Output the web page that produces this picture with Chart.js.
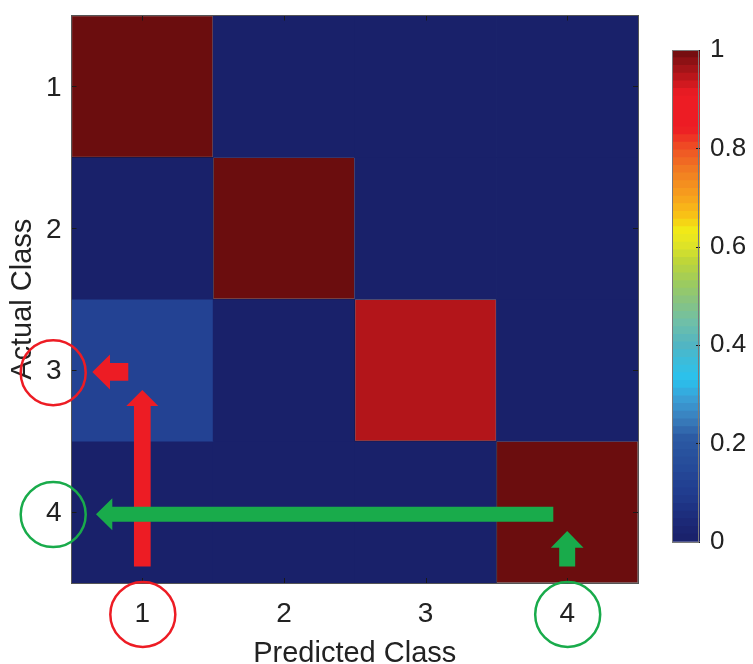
<!DOCTYPE html>
<html>
<head>
<meta charset="utf-8">
<script src="https://cdn.jsdelivr.net/npm/chart.js@4.4.1/dist/chart.umd.min.js"></script>
<style>
  html, body { margin: 0; padding: 0; background: #ffffff; }
  #wrap { position: relative; width: 753px; height: 664px; }
  #wrap canvas { position: absolute; left: 0; top: 0; }
</style>
</head>
<body>
<div id="wrap">
  <canvas id="matrix" width="753" height="664"></canvas>
  <canvas id="colorbar" width="753" height="664"></canvas>
</div>
<script>
// Confusion matrix: rows are the actual class, columns the predicted class.
const predictedClasses = ['1', '2', '3', '4'];
const actualClasses = [1, 2, 3, 4];
const actualClass1 = [1.00, 0.00, 0.00, 0.00];
const actualClass2 = [0.00, 1.00, 0.00, 0.00];
const actualClass3 = [0.12, 0.00, 0.95, 0.00];
const actualClass4 = [0.00, 0.00, 0.00, 1.00];
const matrixRows = [actualClass1, actualClass2, actualClass3, actualClass4];

// Colour bar
const colorbarTicks = [0, 0.2, 0.4, 0.6, 0.8, 1];
const colorSteps = 64;

const FONT = "'Liberation Sans', Arial, Helvetica, sans-serif";
const TEXT = '#222222';
const RED = '#ed1c24';
const GREEN = '#19ab4b';

// Jet-like colour map (value in [0,1] -> colour)
const jetStops = [
  [0.000, '#19216a'], [0.030, '#1b2673'], [0.090, '#203a8c'], [0.150, '#254a99'],
  [0.210, '#2c5aa3'], [0.250, '#3a7fbd'], [0.290, '#3a9fd6'], [0.330, '#29c2ee'],
  [0.370, '#3dbcd9'], [0.400, '#52b5c2'], [0.445, '#6fbfa8'], [0.485, '#86c383'],
  [0.525, '#9ccb5f'], [0.567, '#bcd53a'], [0.607, '#e3e524'], [0.634, '#f2e916'],
  [0.660, '#f8c515'], [0.700, '#f7a21d'], [0.756, '#f17a22'], [0.796, '#ef5424'],
  [0.840, '#ed1c24'], [0.910, '#ed1c24'], [1.000, '#6b0d0e']
];
function hexToRgb(h) {
  const n = parseInt(h.slice(1), 16);
  return [(n >> 16) & 255, (n >> 8) & 255, n & 255];
}
function colormap(v) {
  v = Math.max(0, Math.min(1, v));
  for (let i = 1; i < jetStops.length; i++) {
    const [v1, c1] = jetStops[i];
    if (v <= v1) {
      const [v0, c0] = jetStops[i - 1];
      const t = v1 === v0 ? 0 : (v - v0) / (v1 - v0);
      const a = hexToRgb(c0), b = hexToRgb(c1);
      const m = a.map((x, k) => Math.round(x + (b[k] - x) * t));
      return `rgb(${m[0]},${m[1]},${m[2]})`;
    }
  }
  return jetStops[jetStops.length - 1][1];
}

// Annotation arrows, endpoints in data units (x: predicted class index, y: actual class)
const annotationArrows = [
  { from: [0, 4.384], to: [0, 3.139], shaft: 16.7, head: 32, headLen: 16, color: RED },
  { from: [-0.099, 3.012], to: [-0.353, 3.012], shaft: 17.7, head: 35, headLen: 17.7, color: RED },
  { from: [2.902, 4.015], to: [-0.327, 4.015], shaft: 15, head: 32, headLen: 16.3, color: GREEN },
  { from: [3.0, 4.384], to: [3.0, 4.133], shaft: 16, head: 32.7, headLen: 16.7, color: GREEN }
];
// Rings drawn around selected tick labels
const annotationRings = [
  { axis: 'y', value: 3, color: RED },
  { axis: 'y', value: 4, color: GREEN },
  { axis: 'x', value: 0, color: RED },
  { axis: 'x', value: 3, color: GREEN }
];

function drawArrow(ctx, x0, y0, x1, y1, a) {
  const len = Math.hypot(x1 - x0, y1 - y0);
  const dx = (x1 - x0) / len, dy = (y1 - y0) / len;
  const nx = -dy, ny = dx;
  const bx = x1 - dx * a.headLen, by = y1 - dy * a.headLen;
  const s = a.shaft / 2, h = a.head / 2;
  ctx.beginPath();
  ctx.moveTo(x0 + nx * s, y0 + ny * s);
  ctx.lineTo(bx + nx * s, by + ny * s);
  ctx.lineTo(bx + nx * h, by + ny * h);
  ctx.lineTo(x1, y1);
  ctx.lineTo(bx - nx * h, by - ny * h);
  ctx.lineTo(bx - nx * s, by - ny * s);
  ctx.lineTo(x0 - nx * s, y0 - ny * s);
  ctx.closePath();
  ctx.fillStyle = a.color;
  ctx.fill();
}

// keep the plot box exactly where the layout padding puts it
function noEdgePadding(s) {
  s.paddingTop = 0; s.paddingBottom = 0; s.paddingLeft = 0; s.paddingRight = 0;
}

const matrixFrame = {
  id: 'matrixFrame',
  afterDatasetsDraw(chart) {
    const { ctx, chartArea: ca, scales: { x, y } } = chart;
    ctx.save();
    // inward tick marks on all four sides
    ctx.strokeStyle = '#1a1a1a';
    ctx.lineWidth = 1;
    ctx.beginPath();
    x.ticks.forEach((t, i) => {
      const px = Math.round(x.getPixelForTick(i)) + 0.5;
      ctx.moveTo(px, ca.bottom); ctx.lineTo(px, ca.bottom - 5);
      ctx.moveTo(px, ca.top); ctx.lineTo(px, ca.top + 5);
    });
    y.ticks.forEach((t) => {
      const py = Math.round(y.getPixelForValue(t.value)) + 0.5;
      ctx.moveTo(ca.left, py); ctx.lineTo(ca.left + 5, py);
      ctx.moveTo(ca.right, py); ctx.lineTo(ca.right - 5, py);
    });
    ctx.stroke();
    // axes box
    ctx.strokeStyle = '#555555';
    ctx.strokeRect(Math.floor(ca.left) + 0.5, Math.floor(ca.top) + 0.5,
                   Math.round(ca.right - ca.left), Math.round(ca.bottom - ca.top));
    ctx.restore();
  },
  afterDraw(chart) {
    const { ctx, chartArea: ca, scales: { x, y } } = chart;
    ctx.save();
    annotationArrows.forEach(a => {
      drawArrow(ctx,
        x.getPixelForValue(a.from[0]), y.getPixelForValue(a.from[1]),
        x.getPixelForValue(a.to[0]), y.getPixelForValue(a.to[1]), a);
    });
    ctx.lineWidth = 2.5;
    annotationRings.forEach(r => {
      let cx, cy;
      if (r.axis === 'y') { cx = ca.left - 18.3; cy = y.getPixelForValue(r.value) + 2.5; }
      else { cx = x.getPixelForValue(r.value) + 0.5; cy = ca.bottom + 31.5; }
      ctx.strokeStyle = r.color;
      ctx.beginPath();
      ctx.arc(cx, cy, 32.5, 0, Math.PI * 2);
      ctx.stroke();
    });
    ctx.restore();
  }
};

new Chart(document.getElementById('matrix'), {
  type: 'bar',
  data: {
    labels: predictedClasses,
    datasets: matrixRows.map((vals, r) => ({
      label: 'Actual ' + actualClasses[r],
      data: vals.map(() => [actualClasses[r] - 0.5, actualClasses[r] + 0.5]),
      backgroundColor: vals.map(colormap),
      borderColor: 'rgba(30,4,10,0.55)',
      borderWidth: vals.map(v => v > 0.5 ? 1 : 0),
      borderSkipped: false,
      grouped: false,
      barPercentage: 1,
      categoryPercentage: 1
    }))
  },
  options: {
    responsive: false,
    animation: false,
    devicePixelRatio: 1,
    layout: { padding: { left: 0, top: 15.5, right: 115, bottom: 0 } },
    plugins: { legend: { display: false }, tooltip: { enabled: false } },
    scales: {
      x: {
        type: 'category',
        offset: true,
        grid: { display: false, drawTicks: false },
        border: { display: false },
        ticks: { font: { family: FONT, size: 28 }, color: TEXT, padding: 14.5, maxRotation: 0 },
        title: {
          display: true, text: 'Predicted Class', color: TEXT,
          font: { family: FONT, size: 29, lineHeight: 0.66 }, padding: { top: 0, bottom: 0 }
        },
        afterFit(s) { s.height = 81; noEdgePadding(s); }
      },
      y: {
        type: 'linear',
        min: 0.5, max: 4.5,
        reverse: true,
        grid: { display: false, drawTicks: false },
        border: { display: false },
        afterBuildTicks(s) { s.ticks = actualClasses.map(v => ({ value: v })); },
        ticks: { font: { family: FONT, size: 28 }, color: TEXT, padding: 10, labelOffset: 1.5, callback: v => String(v) },
        title: {
          display: true, text: 'Actual Class', color: TEXT,
          font: { family: FONT, size: 29 }, padding: { top: 6, bottom: 0 }
        },
        afterFit(s) { s.width = 71.5; noEdgePadding(s); }
      }
    }
  },
  plugins: [matrixFrame]
});

// Colour bar: one floating band per colour level, each reaching slightly under the previous one
const colorbarFrame = {
  id: 'colorbarFrame',
  afterDatasetsDraw(chart) {
    const { ctx, chartArea: ca, scales: { y } } = chart;
    ctx.save();
    ctx.strokeStyle = '#1a1a1a';
    ctx.lineWidth = 1;
    ctx.beginPath();
    y.ticks.forEach(t => {
      const py = Math.round(y.getPixelForValue(t.value)) + 0.5;
      ctx.moveTo(ca.right, py); ctx.lineTo(ca.right - 4, py);
    });
    ctx.stroke();
    ctx.strokeStyle = '#7a7a7a';
    ctx.strokeRect(Math.floor(ca.left) + 0.5, Math.floor(ca.top) + 0.5,
                   Math.round(ca.right - ca.left) - 1, Math.round(ca.bottom - ca.top));
    ctx.restore();
  }
};

new Chart(document.getElementById('colorbar'), {
  type: 'bar',
  data: {
    labels: ['colour'],
    datasets: Array.from({ length: colorSteps }, (_, i) => ({
      data: [[Math.max(0, (i - 0.5) / colorSteps), (i + 1) / colorSteps]],
      backgroundColor: colormap((i + 0.5) / colorSteps),
      borderWidth: 0,
      grouped: false,
      barPercentage: 1,
      categoryPercentage: 1
    }))
  },
  options: {
    responsive: false,
    animation: false,
    devicePixelRatio: 1,
    layout: { padding: { left: 672.7, top: 50, right: 0, bottom: 122.3 } },
    plugins: { legend: { display: false }, tooltip: { enabled: false } },
    scales: {
      x: { display: false, offset: true },
      y: {
        type: 'linear',
        position: 'right',
        min: 0, max: 1,
        grid: { display: false, drawTicks: false },
        border: { display: false },
        afterBuildTicks(s) { s.ticks = colorbarTicks.map(v => ({ value: v })); },
        ticks: { font: { family: FONT, size: 26 }, color: TEXT, padding: 10, callback: v => String(v) },
        afterFit(s) { s.width = 53; noEdgePadding(s); }
      }
    }
  },
  plugins: [colorbarFrame]
});
</script>
</body>
</html>
